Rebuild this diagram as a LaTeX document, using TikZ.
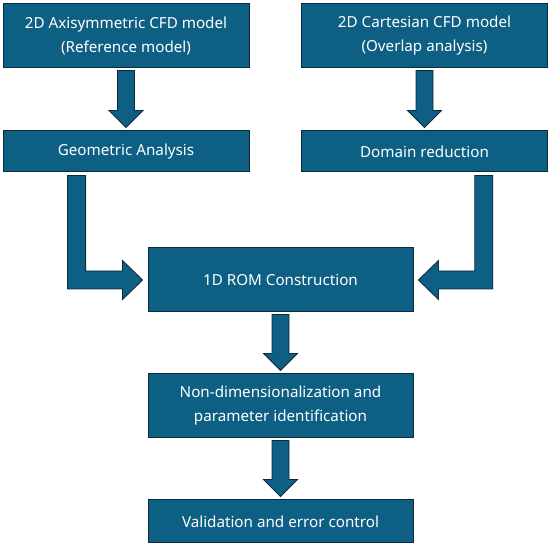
\documentclass[tikz,border=0pt]{standalone}
\usepackage{fontspec}
\setsansfont{Noto Sans}
\usetikzlibrary{positioning,calc}

\definecolor{stepfill}{RGB}{14,95,132}
\definecolor{stepedge}{RGB}{12,42,62}

% straight block arrow from the bottom of #1 to the top of #2
\newcommand{\flowdown}[2]{%
  \draw[blockarrow] ($(#1.south)+(-8.5,2)$) -- ($(#1.south)+(8.5,2)$)
    -- ($(#1.south |- #2.north)+(8.5,-20)$) -- ($(#1.south |- #2.north)+(17,-20)$)
    -- ($(#1.south |- #2.north)+(0,-3)$) -- ($(#1.south |- #2.north)+(-17,-20)$)
    -- ($(#1.south |- #2.north)+(-8.5,-20)$) -- cycle;}

% bent block arrow: #1 start point, #2 target point, #3 direction (1 or -1)
\newcommand{\flowelbow}[3]{%
  \draw[blockarrow] ($(#1)+(-9*#3,3)$) -- ($(#1)+(9*#3,3)$)
    -- ($(#1 |- #2)+(9*#3,-9)$) -- ($(#2)+(-25*#3,-9)$)
    -- ($(#2)+(-25*#3,-19.5)$) -- ($(#2)+(-5*#3,0)$)
    -- ($(#2)+(-25*#3,19.5)$) -- ($(#2)+(-25*#3,9)$)
    -- ($(#1 |- #2)+(-9*#3,9)$) -- cycle;}

\begin{document}
\begin{tikzpicture}[
    x=1pt, y=-1pt,
    stepbox/.style={
        draw=stepedge,
        line width=1pt,
        fill=stepfill,
        text=white,
        align=center,
        inner sep=0pt,
        font=\sffamily\fontsize{15.2}{24}\selectfont
    },
    topbox/.style={stepbox, minimum width=246pt, minimum height=64pt},
    midbox/.style={stepbox, minimum width=246pt, minimum height=41pt},
    mainbox/.style={stepbox, minimum width=265pt, minimum height=64pt},
    blockarrow/.style={fill=stepfill, draw=stepedge, line width=0.9pt, line join=miter}
]
    \useasboundingbox (0,0) rectangle (550,548);

    \node[topbox] (axi) at (126,36) {2D Axisymmetric CFD model\\(Reference model)};
    \node[topbox] (cart) at (424.5,36) {2D Cartesian CFD model\\(Overlap analysis)};
    \node[midbox] (geo) at (126,151.5) {Geometric Analysis};
    \node[midbox] (dom) at (424.5,151.5) {Domain reduction};
    \node[mainbox] (rom) at (280.5,280) {1D ROM Construction};
    \node[mainbox] (nondim) at (280.5,406) {Non-dimensionalization and\\parameter identification};
    \node[mainbox, minimum height=43pt] (valid) at (280.5,521.5) {Validation and error control};

    \coordinate (geoout) at ($(geo.south west)!0.3!(geo.south east)$);
    \coordinate (domout) at ($(dom.south west)!0.74!(dom.south east)$);

    \flowdown{axi}{geo}
    \flowdown{cart}{dom}
    \flowelbow{geoout}{rom.west}{1}
    \flowelbow{domout}{rom.east}{-1}
    \flowdown{rom}{nondim}
    \flowdown{nondim}{valid}
\end{tikzpicture}
\end{document}
